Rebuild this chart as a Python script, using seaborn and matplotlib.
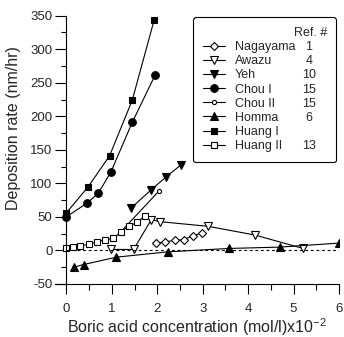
import matplotlib
matplotlib.use('Agg')
import matplotlib.pyplot as plt
import seaborn as sns
import pandas as pd
from matplotlib.ticker import MultipleLocator

# data (x: boric acid conc. in 1e-2 mol/l, y: nm/hr)
nagayama_x = [1.98, 2.18, 2.39, 2.58, 2.79, 2.99]
nagayama_y = [11, 13, 15, 16, 22, 26]
awazu_x = [0.99, 1.48, 1.87, 2.05, 3.12, 4.15, 5.21]
awazu_y = [1.5, 1.5, 46, 43, 36, 23, 3]
yeh_x = [1.42, 1.86, 2.2, 2.53]
yeh_y = [63, 90, 110, 128]
chou1_x = [0, 0.46, 0.7, 0.98, 1.45, 1.95]
chou1_y = [50, 71, 85, 117, 191, 261]
chou2_x = [1.2, 2.03]
chou2_y = [28, 88]
homma_x = [0.16, 0.38, 1.1, 2.24, 3.58, 4.7, 6.0]
homma_y = [-25, -21, -10, -2, 3, 5, 11]
huang1_x = [0, 0.48, 0.95, 1.45, 1.93]
huang1_y = [56, 95, 141, 224, 343]
huang2_x = [0, 0.15, 0.31, 0.5, 0.68, 0.86, 1.03, 1.21, 1.37, 1.56, 1.72]
huang2_y = [3, 5, 7, 9, 13, 16, 18, 28, 36, 42, 51]
zero_x = [0, 6]
zero_y = [0, 0]

names = ['Nagayama', 'Awazu', 'Yeh', 'Chou I', 'Chou II', 'Homma', 'Huang I', 'Huang II']
refs = ['1', '4', '10', '15', '15', '6', '', '13']

sns.set_style('ticks')
plt.rcParams['font.family'] = ['Liberation Sans', 'DejaVu Sans']
plt.rcParams['mathtext.fontset'] = 'custom'
plt.rcParams['mathtext.rm'] = 'Liberation Sans'
plt.rcParams['mathtext.it'] = 'Liberation Sans'
plt.rcParams['axes.unicode_minus'] = False

fig = plt.figure(figsize=(3.44, 3.37), dpi=100)
ax = fig.add_axes([55/344, 1-284/337, 284/344, 268.3/337])

styles = [
    (nagayama_x, nagayama_y, 'D', 'white', 3.8),
    (awazu_x, awazu_y, 'v', 'white', 5.5),
    (yeh_x, yeh_y, 'v', 'black', 5.5),
    (chou1_x, chou1_y, 'o', 'black', 5.5),
    (chou2_x, chou2_y, 'o', 'white', 3),
    (homma_x, homma_y, '^', 'black', 5.5),
    (huang1_x, huang1_y, 's', 'black', 5),
    (huang2_x, huang2_y, 's', 'white', 5),
]

for name, (xs, ys, mk, fc, ms) in zip(names, styles):
    df = pd.DataFrame({'x': xs, 'y': ys})
    sns.lineplot(data=df, x='x', y='y', ax=ax, color='black', lw=0.8,
                 marker=mk, mfc=fc, mec='black', mew=0.8, ms=ms,
                 sort=False, estimator=None, label=name)

sns.lineplot(x=zero_x, y=zero_y, ax=ax, color='black', lw=0.8,
             linestyle=(0, (2.5, 2.5)), estimator=None)

ax.set_xlim(-0.25, 6)
ax.set_ylim(-50, 350)
ax.xaxis.set_major_locator(MultipleLocator(1))
ax.xaxis.set_minor_locator(MultipleLocator(0.5))
ax.yaxis.set_major_locator(MultipleLocator(50))
ax.yaxis.set_minor_locator(MultipleLocator(25))
sns.despine(ax=ax)
ax.spines['left'].set_position(('data', 0))
for s in ['left', 'bottom']:
    ax.spines[s].set_linewidth(0.8)
    ax.spines[s].set_color('black')
ax.tick_params(axis='y', which='major', length=8, width=0.8, pad=2, labelsize=9.5, color='black')
ax.tick_params(axis='y', which='minor', length=3.5, width=0.8, color='black')
ax.tick_params(axis='x', which='major', length=7, width=0.8, pad=7, labelsize=9.5, color='black')
ax.tick_params(axis='x', which='minor', length=4, width=0.8, color='black')

ax.set_xlabel(r'Boric acid concentration (mol/l)x10$^{-2}$', fontsize=11.5)
ax.set_ylabel('Deposition rate (nm/hr)', fontsize=11.5)
ax.xaxis.set_label_coords(0.5, -0.122)
ax.yaxis.set_label_coords(-0.118, 0.581)

leg = ax.legend(loc='upper left', bbox_to_anchor=(0.486, 0.462, 0.503, 0.533),
                mode='expand', borderaxespad=0, fontsize=9, title=' ',
                title_fontsize=9, handlelength=1.75, handletextpad=0.8,
                labelspacing=0.17, borderpad=0.8, fancybox=True,
                framealpha=1, edgecolor='black')
leg.get_frame().set_linewidth(0.8)

fig.canvas.draw()
H = fig.bbox.height
ys_px = []
for t, r in zip(leg.get_texts(), refs):
    bb = t.get_window_extent()
    yc = (bb.y0 + bb.y1) / 2
    ys_px.append(yc)
    fig.text(309/344, yc / H, r, ha='center', va='center', fontsize=9)
row = ys_px[0] - ys_px[1]
fig.text(327/344, (ys_px[0] + row) / H, 'Ref. #', ha='right', va='center', fontsize=9)

fig.savefig('out.png', dpi=100)
